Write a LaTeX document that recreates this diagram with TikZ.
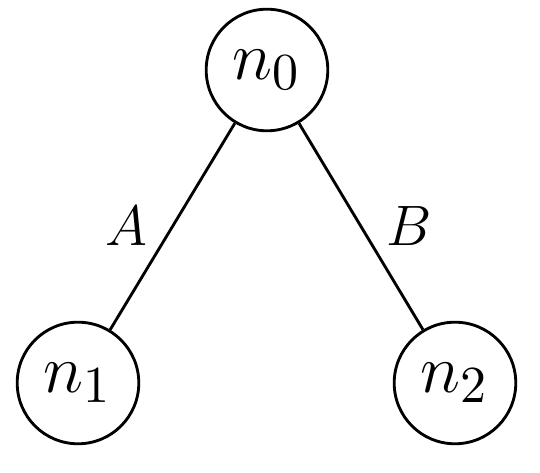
\documentclass[tikz,border=0pt]{standalone}
\usepackage{amsmath}
\usetikzlibrary{positioning}

\begin{document}
\begin{tikzpicture}[
    x=0.0074cm, y=-0.0074cm,
    line width=0.6pt,
    state/.style={
        circle,
        draw,
        minimum size=0.9cm,
        inner sep=0pt,
        font=\fontsize{15}{18}\selectfont
    },
    edgelabel/.style={
        font=\fontsize{13}{16}\selectfont,
        inner sep=2pt
    }
]
    \useasboundingbox (0,0) rectangle (540,473);

    % --- nodes ---
    \node[state] (n0) at (267,70)  {$n_0$};
    \node[state] (n1) at (78,383)  {$n_1$};
    \node[state] (n2) at (455,383) {$n_2$};

    % --- edges ---
    \draw (n0) -- (n1) node[midway, left=3pt, edgelabel]{$A$};
    \draw (n0) -- (n2) node[midway, right=3pt, edgelabel]{$B$};

\end{tikzpicture}
\end{document}
